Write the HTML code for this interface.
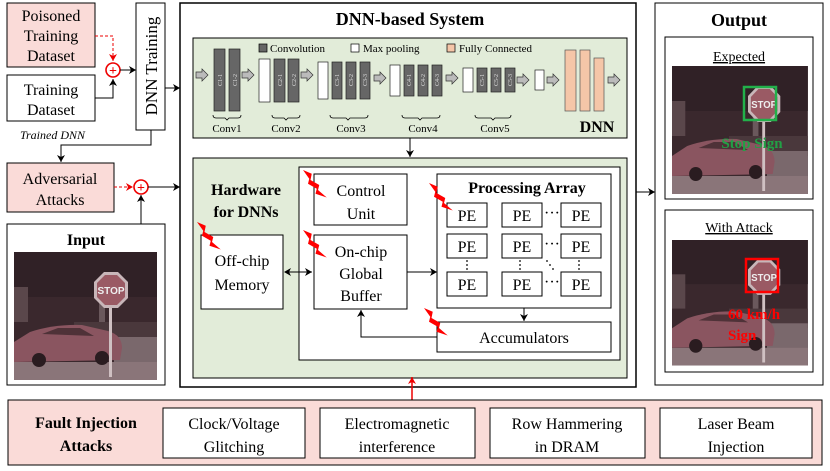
<!DOCTYPE html>
<html><head><meta charset="utf-8"><style>
html,body{margin:0;padding:0;background:#fff;}
svg{display:block;}
text{font-family:"Liberation Serif","Times New Roman",serif;}
</style></head><body>
<svg width="830" height="471" viewBox="0 0 830 471" xmlns="http://www.w3.org/2000/svg" font-family="Liberation Serif, serif">
<defs>
<marker id="ah" markerWidth="8" markerHeight="8" refX="7" refY="4" orient="auto" markerUnits="userSpaceOnUse"><path d="M0,0 L7,4 L0,8 L2,4 Z" fill="#000"/></marker>
<marker id="ahs" markerWidth="8" markerHeight="8" refX="1" refY="4" orient="auto" markerUnits="userSpaceOnUse"><path d="M7,0 L0,4 L7,8 L5,4 Z" fill="#000"/></marker>
<marker id="ahr" markerWidth="8" markerHeight="8" refX="7" refY="4" orient="auto" markerUnits="userSpaceOnUse"><path d="M0,0 L7,4 L0,8 L2,4 Z" fill="#e00"/></marker>
<g id="photo">
<rect x="0" y="0" width="143" height="128" fill="#3a282d"/>
<rect x="0" y="0" width="143" height="45" fill="#302126"/>
<rect x="0" y="35" width="14" height="35" fill="#5a474b"/>
<rect x="85" y="45" width="6" height="30" fill="#6a585c"/>
<rect x="60" y="70" width="83" height="20" fill="#4a383c"/>
<rect x="100" y="85" width="43" height="43" fill="#7a686c"/>
<rect x="0" y="110" width="143" height="18" fill="#8a7579"/>
<path d="M0,90 L16,80 Q40,72 68,73 L94,79 Q108,83 108,96 L106,108 L0,110 Z" fill="#8a5560"/>
<path d="M28,82 L44,76 L66,76 L80,84 Z" fill="#4f3238"/>
<circle cx="25" cy="108" r="7" fill="#2a1c20"/>
<circle cx="88" cy="106" r="7" fill="#2a1c20"/>
<rect x="95" y="50" width="3" height="75" fill="#cfc0c2"/>
<polygon points="90,20 104,20 114,30 114,46 104,56 90,56 80,46 80,30" fill="#c8b6b9"/>
<polygon points="91,23 103,23 111,31 111,45 103,53 91,53 83,45 83,31" fill="#9a5a64"/>
<text x="97" y="42" font-size="10" font-weight="bold" fill="#eee" text-anchor="middle" style="font-family:'Liberation Sans',sans-serif">STOP</text>
</g>
<path id="bolt" d="M0,0 L7,3 L6,8 L13,12 L12,16 L19,22 L10,19 L11,15 L4,11 L5,7 Z" fill="#f00" transform="scale(1.25)"/>
</defs>

<!-- Top-left -->
<rect x="7" y="3" width="88" height="64" fill="#fadbd8" stroke="#000"/>
<text x="51" y="21" font-size="16" text-anchor="middle">Poisoned</text>
<text x="51" y="41" font-size="16" text-anchor="middle">Training</text>
<text x="51" y="61" font-size="16" text-anchor="middle">Dataset</text>
<rect x="7" y="75" width="88" height="46" fill="#fff" stroke="#000"/>
<text x="51" y="95" font-size="16" text-anchor="middle">Training</text>
<text x="51" y="115" font-size="16" text-anchor="middle">Dataset</text>
<path d="M95,36 H113 V61" stroke="#e00" fill="none" stroke-dasharray="3,2" marker-end="url(#ahr)"/>
<path d="M95,98 H113 V79" stroke="#000" fill="none" marker-end="url(#ah)"/>
<circle cx="113" cy="70" r="7" fill="#fff" stroke="#e00" stroke-width="1.6"/>
<text x="113" y="75" font-size="14" font-weight="bold" fill="#e00" text-anchor="middle">+</text>
<line x1="120" y1="70" x2="136" y2="70" stroke="#000" marker-end="url(#ah)"/>
<rect x="136" y="3" width="29" height="127" fill="#fff" stroke="#000"/>
<text transform="translate(157,66) rotate(-90)" font-size="17" text-anchor="middle">DNN Training</text>
<path d="M165,88 H180" stroke="#000" marker-end="url(#ah)"/>
<text x="20" y="139" font-size="12" font-style="italic">Trained DNN</text>
<path d="M151,130 V145 H61 V162" stroke="#000" fill="none" marker-end="url(#ah)"/>
<rect x="7" y="163" width="107" height="49" fill="#fadbd8" stroke="#000"/>
<text x="60" y="184" font-size="16" text-anchor="middle">Adversarial</text>
<text x="60" y="205" font-size="16" text-anchor="middle">Attacks</text>
<line x1="114" y1="187" x2="133" y2="187" stroke="#e00" stroke-dasharray="3,2" marker-end="url(#ahr)"/>
<circle cx="141" cy="187" r="7" fill="#fff" stroke="#e00" stroke-width="1.6"/>
<text x="141" y="192" font-size="14" font-weight="bold" fill="#e00" text-anchor="middle">+</text>
<line x1="141" y1="224" x2="141" y2="195" stroke="#000" marker-end="url(#ah)"/>
<line x1="148" y1="187" x2="180" y2="187" stroke="#000" marker-end="url(#ah)"/>

<!-- Input -->
<rect x="7" y="224" width="158" height="161" fill="#fff" stroke="#000"/>
<text x="86" y="245" font-size="16" font-weight="bold" text-anchor="middle">Input</text>
<use href="#photo" x="14" y="252"/>

<!-- Main system -->
<rect x="180" y="3" width="456" height="384" fill="#fff" stroke="#000" stroke-width="1.5"/>
<text x="410" y="25" font-size="18" font-weight="bold" text-anchor="middle">DNN-based System</text>
<rect x="193" y="38" width="434" height="100" fill="#e2ecd9" stroke="#000"/>
<g font-size="11">
<rect x="259" y="44" width="8" height="8" fill="#666" stroke="#000" stroke-width="0.7"/><text x="270" y="52">Convolution</text>
<rect x="351" y="44" width="8" height="8" fill="#fff" stroke="#000" stroke-width="0.7"/><text x="363" y="52">Max pooling</text>
<rect x="447" y="44" width="8" height="8" fill="#f5c6a8" stroke="#000" stroke-width="0.7"/><text x="459" y="52">Fully Connected</text>
</g>
<g fill="#bbb" stroke="#333" stroke-width="0.7">
<path d="M196,72 h6 v-3 l6,6 l-6,6 v-3 h-6 z"/>
<path d="M242,72 h6 v-3 l6,6 l-6,6 v-3 h-6 z"/>
<path d="M301,72 h6 v-3 l6,6 l-6,6 v-3 h-6 z"/>
<path d="M374,75 h6 v-3 l6,6 l-6,6 v-3 h-6 z"/>
<path d="M446,75 h6 v-3 l6,6 l-6,6 v-3 h-6 z"/>
<path d="M517,77 h6 v-3 l6,6 l-6,6 v-3 h-6 z"/>
<path d="M547,77 h6 v-3 l6,6 l-6,6 v-3 h-6 z"/>
<path d="M608,77 h6 v-3 l6,6 l-6,6 v-3 h-6 z"/>
</g>
<g fill="#666" stroke="#222" stroke-width="0.7">
<rect x="214" y="49" width="11" height="62"/><rect x="229" y="49" width="11" height="62"/>
<rect x="274" y="59" width="11" height="43"/><rect x="288" y="59" width="11" height="43"/>
<rect x="332" y="62" width="10" height="37"/><rect x="346" y="62" width="10" height="37"/><rect x="360" y="62" width="10" height="37"/>
<rect x="404" y="65" width="10" height="31"/><rect x="418" y="65" width="10" height="31"/><rect x="432" y="65" width="10" height="31"/>
<rect x="477" y="68" width="10" height="24"/><rect x="491" y="68" width="10" height="24"/><rect x="505" y="68" width="10" height="24"/>
</g>
<g fill="#fff" stroke="#222" stroke-width="0.7">
<rect x="259" y="59" width="11" height="43"/><rect x="318" y="62" width="10" height="37"/>
<rect x="390" y="65" width="10" height="31"/><rect x="463" y="68" width="10" height="24"/>
<rect x="535" y="70" width="9" height="20"/>
</g>
<g fill="#f5c6a8" stroke="#555" stroke-width="0.7">
<rect x="565" y="50" width="11" height="61"/><rect x="580" y="50" width="10" height="61"/><rect x="594" y="58" width="10" height="53"/>
</g>
<g font-size="6" fill="#ddd" text-anchor="middle">
<text transform="translate(222,80) rotate(-90)">C1-1</text><text transform="translate(237,80) rotate(-90)">C1-2</text>
<text transform="translate(282,80) rotate(-90)">C2-1</text><text transform="translate(296,80) rotate(-90)">C2-2</text>
<text transform="translate(339,80) rotate(-90)">C3-1</text><text transform="translate(353,80) rotate(-90)">C3-2</text><text transform="translate(367,80) rotate(-90)">C3-3</text>
<text transform="translate(411,80) rotate(-90)">C4-1</text><text transform="translate(425,80) rotate(-90)">C4-2</text><text transform="translate(439,80) rotate(-90)">C4-3</text>
<text transform="translate(484,80) rotate(-90)">C5-1</text><text transform="translate(498,80) rotate(-90)">C5-2</text><text transform="translate(512,80) rotate(-90)">C5-3</text>
</g>
<g stroke="#000" fill="none" stroke-width="0.8">
<path d="M213,115 q0,3 3,3 h9 l2,2 l2,-2 h9 q3,0 3,-3"/>
<path d="M272,115 q0,3 3,3 h9 l2,2 l2,-2 h9 q3,0 3,-3"/>
<path d="M330,115 q0,3 3,3 h13 l2,2 l2,-2 h15 q3,0 3,-3"/>
<path d="M402,115 q0,3 3,3 h13 l2,2 l2,-2 h15 q3,0 3,-3"/>
<path d="M475,115 q0,3 3,3 h13 l2,2 l2,-2 h13 q3,0 3,-3"/>
</g>
<g font-size="11" text-anchor="middle">
<text x="227" y="132">Conv1</text><text x="286" y="132">Conv2</text><text x="351" y="132">Conv3</text><text x="423" y="132">Conv4</text><text x="495" y="132">Conv5</text>
</g>
<text x="597" y="132" font-size="16" font-weight="bold" text-anchor="middle">DNN</text>
<line x1="410" y1="138" x2="410" y2="157" stroke="#000" marker-end="url(#ah)"/>

<!-- Hardware -->
<rect x="193" y="158" width="434" height="220" fill="#e2ecd9" stroke="#000"/>
<text x="246" y="195" font-size="16" font-weight="bold" text-anchor="middle">Hardware</text>
<text x="246" y="217" font-size="16" font-weight="bold" text-anchor="middle">for DNNs</text>
<rect x="299" y="167" width="321" height="193" fill="#fff" stroke="#000"/>
<rect x="201" y="235" width="82" height="74" fill="#fff" stroke="#000"/>
<text x="242" y="266" font-size="16" text-anchor="middle">Off-chip</text>
<text x="242" y="290" font-size="16" text-anchor="middle">Memory</text>
<rect x="314" y="174" width="93" height="51" fill="#fff" stroke="#000"/>
<text x="361" y="196" font-size="16" text-anchor="middle">Control</text>
<text x="361" y="219" font-size="16" text-anchor="middle">Unit</text>
<rect x="314" y="235" width="93" height="74" fill="#fff" stroke="#000"/>
<text x="361" y="257" font-size="16" text-anchor="middle">On-chip</text>
<text x="361" y="279" font-size="16" text-anchor="middle">Global</text>
<text x="361" y="301" font-size="16" text-anchor="middle">Buffer</text>
<line x1="285" y1="272" x2="312" y2="272" stroke="#000" marker-start="url(#ahs)" marker-end="url(#ah)"/>
<line x1="407" y1="272" x2="437" y2="272" stroke="#000" marker-end="url(#ah)"/>
<rect x="437" y="174" width="174" height="134" fill="#fff" stroke="#000"/>
<text x="527" y="193" font-size="16" font-weight="bold" text-anchor="middle">Processing Array</text>
<g fill="#fff" stroke="#000">
<rect x="447" y="203" width="40" height="24"/><rect x="502" y="203" width="40" height="24"/><rect x="561" y="203" width="40" height="24"/>
<rect x="447" y="234" width="40" height="24"/><rect x="502" y="234" width="40" height="24"/><rect x="561" y="234" width="40" height="24"/>
<rect x="447" y="272" width="40" height="24"/><rect x="502" y="272" width="40" height="24"/><rect x="561" y="272" width="40" height="24"/>
</g>
<g font-size="16" text-anchor="middle">
<text x="467" y="221">PE</text><text x="522" y="221">PE</text><text x="581" y="221">PE</text>
<text x="467" y="252">PE</text><text x="522" y="252">PE</text><text x="581" y="252">PE</text>
<text x="467" y="290">PE</text><text x="522" y="290">PE</text><text x="581" y="290">PE</text>
<text x="552" y="218">···</text><text x="552" y="249">···</text><text x="552" y="287">···</text>
</g>
<g fill="#000">
<circle cx="467" cy="261" r="0.9"/><circle cx="467" cy="265" r="0.9"/><circle cx="467" cy="269" r="0.9"/>
<circle cx="520" cy="261" r="0.9"/><circle cx="520" cy="265" r="0.9"/><circle cx="520" cy="269" r="0.9"/>
<circle cx="579" cy="261" r="0.9"/><circle cx="579" cy="265" r="0.9"/><circle cx="579" cy="269" r="0.9"/>
<circle cx="547" cy="261" r="0.9"/><circle cx="550" cy="265" r="0.9"/><circle cx="553" cy="269" r="0.9"/>
</g>
<line x1="524" y1="308" x2="524" y2="321" stroke="#000" marker-end="url(#ah)"/>
<rect x="437" y="322" width="174" height="30" fill="#fff" stroke="#000"/>
<text x="524" y="343" font-size="16" text-anchor="middle">Accumulators</text>
<path d="M437,337 H361 V310" stroke="#000" fill="none" marker-end="url(#ah)"/>
<use href="#bolt" x="197" y="222"/>
<use href="#bolt" x="303" y="170"/>
<use href="#bolt" x="303" y="230"/>
<use href="#bolt" x="429" y="183"/>
<use href="#bolt" x="424" y="308"/>

<!-- Output -->
<line x1="636" y1="192" x2="655" y2="192" stroke="#000" marker-end="url(#ah)"/>
<rect x="655" y="3" width="168" height="382" fill="#fff" stroke="#000"/>
<text x="739" y="26" font-size="18" font-weight="bold" text-anchor="middle">Output</text>
<rect x="665" y="37" width="148" height="162" fill="#fff" stroke="#000"/>
<text x="739" y="61" font-size="14" text-anchor="middle" text-decoration="underline">Expected</text>
<use href="#photo" transform="translate(672,66) scale(0.95,1.0)"/>
<rect x="744" y="87" width="32" height="33" fill="none" stroke="#22b04a" stroke-width="2.5"/>
<text x="752" y="148" font-size="15" font-weight="bold" fill="#22a045" text-anchor="middle">Stop Sign</text>
<rect x="665" y="210" width="148" height="162" fill="#fff" stroke="#000"/>
<text x="739" y="232" font-size="14" text-anchor="middle" text-decoration="underline">With Attack</text>
<use href="#photo" transform="translate(672,240) scale(0.95,0.98)"/>
<rect x="746" y="259" width="32" height="33" fill="none" stroke="#f00" stroke-width="2.5"/>
<text x="728" y="319" font-size="15" font-weight="bold" fill="#f00">60 km/h</text>
<text x="728" y="340" font-size="15" font-weight="bold" fill="#f00">Sign</text>

<!-- Fault injection -->
<line x1="412" y1="400" x2="412" y2="377" stroke="#e00" stroke-width="1.5" marker-end="url(#ahr)"/>
<rect x="8" y="400" width="814" height="65" fill="#fadbd8" stroke="#000"/>
<text x="86" y="428" font-size="16" font-weight="bold" text-anchor="middle">Fault Injection</text>
<text x="86" y="451" font-size="16" font-weight="bold" text-anchor="middle">Attacks</text>
<g fill="#fff" stroke="#000">
<rect x="163" y="408" width="142" height="50"/><rect x="320" y="408" width="155" height="50"/>
<rect x="490" y="408" width="155" height="50"/><rect x="660" y="408" width="152" height="50"/>
</g>
<g font-size="16" text-anchor="middle">
<text x="234" y="429">Clock/Voltage</text><text x="234" y="452">Glitching</text>
<text x="397" y="429">Electromagnetic</text><text x="397" y="452">interference</text>
<text x="567" y="429">Row Hammering</text><text x="567" y="452">in DRAM</text>
<text x="736" y="429">Laser Beam</text><text x="736" y="452">Injection</text>
</g>
</svg>
</body></html>
